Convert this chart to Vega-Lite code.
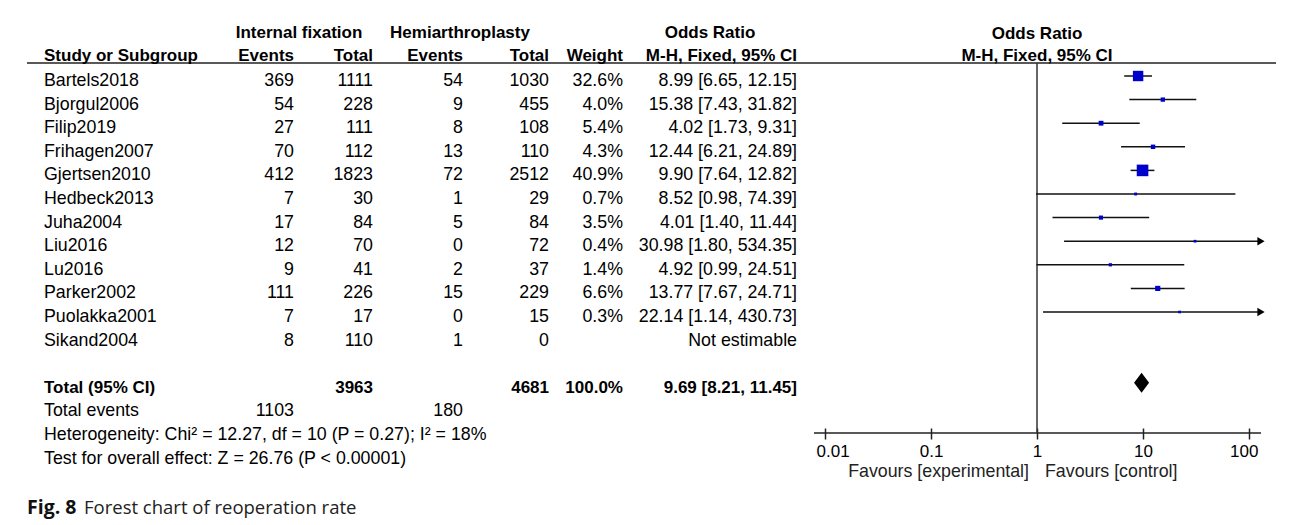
{
  "$schema": "https://vega.github.io/schema/vega-lite/v6.json",
  "background": "white",
  "padding": {"left": 26, "top": 20, "right": 0, "bottom": 6},
  "bounds": "flush",
  "spacing": 0,
  "config": {
    "view": {"stroke": null},
    "text": {"font": "Liberation Sans", "fontSize": 17.8, "color": "#000", "baseline": "middle", "dy": 5}
  },
  "resolve": {"scale": {"x": "independent", "y": "independent", "size": "independent"}},
  "datasets": {
    "one": [{}],
    "table": [
      {"row": 1, "kind": "study", "label": "Bartels2018", "e1": 369, "n1": 1111, "e2": 54, "n2": 1030, "weight": "32.6%", "w": 32.6, "ci": "8.99 [6.65, 12.15]", "or": 8.99, "lo": 6.65, "hi": 12.15},
      {"row": 2, "kind": "study", "label": "Bjorgul2006", "e1": 54, "n1": 228, "e2": 9, "n2": 455, "weight": "4.0%", "w": 4.0, "ci": "15.38 [7.43, 31.82]", "or": 15.38, "lo": 7.43, "hi": 31.82},
      {"row": 3, "kind": "study", "label": "Filip2019", "e1": 27, "n1": 111, "e2": 8, "n2": 108, "weight": "5.4%", "w": 5.4, "ci": "4.02 [1.73, 9.31]", "or": 4.02, "lo": 1.73, "hi": 9.31},
      {"row": 4, "kind": "study", "label": "Frihagen2007", "e1": 70, "n1": 112, "e2": 13, "n2": 110, "weight": "4.3%", "w": 4.3, "ci": "12.44 [6.21, 24.89]", "or": 12.44, "lo": 6.21, "hi": 24.89},
      {"row": 5, "kind": "study", "label": "Gjertsen2010", "e1": 412, "n1": 1823, "e2": 72, "n2": 2512, "weight": "40.9%", "w": 40.9, "ci": "9.90 [7.64, 12.82]", "or": 9.90, "lo": 7.64, "hi": 12.82},
      {"row": 6, "kind": "study", "label": "Hedbeck2013", "e1": 7, "n1": 30, "e2": 1, "n2": 29, "weight": "0.7%", "w": 0.7, "ci": "8.52 [0.98, 74.39]", "or": 8.52, "lo": 0.98, "hi": 74.39},
      {"row": 7, "kind": "study", "label": "Juha2004", "e1": 17, "n1": 84, "e2": 5, "n2": 84, "weight": "3.5%", "w": 3.5, "ci": "4.01 [1.40, 11.44]", "or": 4.01, "lo": 1.40, "hi": 11.44},
      {"row": 8, "kind": "study", "label": "Liu2016", "e1": 12, "n1": 70, "e2": 0, "n2": 72, "weight": "0.4%", "w": 0.4, "ci": "30.98 [1.80, 534.35]", "or": 30.98, "lo": 1.80, "hi": 534.35},
      {"row": 9, "kind": "study", "label": "Lu2016", "e1": 9, "n1": 41, "e2": 2, "n2": 37, "weight": "1.4%", "w": 1.4, "ci": "4.92 [0.99, 24.51]", "or": 4.92, "lo": 0.99, "hi": 24.51},
      {"row": 10, "kind": "study", "label": "Parker2002", "e1": 111, "n1": 226, "e2": 15, "n2": 229, "weight": "6.6%", "w": 6.6, "ci": "13.77 [7.67, 24.71]", "or": 13.77, "lo": 7.67, "hi": 24.71},
      {"row": 11, "kind": "study", "label": "Puolakka2001", "e1": 7, "n1": 17, "e2": 0, "n2": 15, "weight": "0.3%", "w": 0.3, "ci": "22.14 [1.14, 430.73]", "or": 22.14, "lo": 1.14, "hi": 430.73},
      {"row": 12, "kind": "study", "label": "Sikand2004", "e1": 8, "n1": 110, "e2": 1, "n2": 0, "weight": "", "ci": "Not estimable"},
      {"row": 14, "kind": "total", "label": "Total (95% CI)", "n1": 3963, "n2": 4681, "weight": "100.0%", "w": 100, "ci": "9.69 [8.21, 11.45]", "or": 9.69, "lo": 8.21, "hi": 11.45},
      {"row": 15, "kind": "events", "label": "Total events", "e1": 1103, "e2": 180},
      {"row": 16, "kind": "note", "label": "Heterogeneity: Chi² = 12.27, df = 10 (P = 0.27); I² = 18%"},
      {"row": 17, "kind": "note", "label": "Test for overall effect: Z = 26.76 (P < 0.00001)"}
    ]
  },
  "hconcat": [
    {
      "width": 17, "height": 413,
      "layer": [
        {"data": {"name": "one"}, "mark": {"type": "rule", "color": "#222", "strokeWidth": 1.5},
         "encoding": {"y": {"datum": 0.449, "type": "quantitative", "scale": {"type": "linear", "domain": [-1.373, 16.127], "reverse": true, "nice": false, "zero": false}, "axis": null}}},
        {"data": {"name": "one"}, "mark": {"type": "text", "text": "Fig. 8", "align": "left", "dy": 0, "font": "Open Sans", "fontWeight": "bold", "fontSize": 19.5, "color": "#111"},
         "encoding": {"x": {"datum": 0, "type": "quantitative", "scale": {"type": "linear", "domain": [0, 1], "nice": false, "zero": false}, "axis": null},
                      "y": {"datum": 19.305, "type": "quantitative", "axis": null}}},
        {"data": {"name": "one"}, "mark": {"type": "text", "text": "Forest chart of reoperation rate", "align": "left", "dx": 57, "dy": 0, "font": "Open Sans", "fontSize": 18.5, "color": "#222"},
         "encoding": {"x": {"datum": 0, "type": "quantitative", "axis": null},
                      "y": {"datum": 19.305, "type": "quantitative", "axis": null}}}
      ]
    },
    {
      "width": 181, "height": 413,
      "layer": [
        {"data": {"name": "one"}, "mark": {"type": "rule", "color": "#222", "strokeWidth": 1.5},
         "encoding": {"y": {"datum": 0.449, "type": "quantitative", "scale": {"type": "linear", "domain": [-1.373, 16.127], "reverse": true, "nice": false, "zero": false}, "axis": null}}},
        {"data": {"name": "one"}, "mark": {"type": "text", "text": "Study or Subgroup", "align": "left", "dy": 4, "fontWeight": "bold", "fontSize": 17},
         "encoding": {"x": {"datum": 0, "type": "quantitative", "scale": {"type": "linear", "domain": [0, 1], "nice": false, "zero": false}, "axis": null},
                      "y": {"datum": 0, "type": "quantitative", "axis": null}}},
        {"data": {"name": "table"}, "transform": [{"filter": "datum.kind !== 'total'"}],
         "mark": {"type": "text", "align": "left"},
         "encoding": {"x": {"datum": 0, "type": "quantitative", "axis": null},
                      "y": {"field": "row", "type": "quantitative", "axis": null},
                      "text": {"field": "label", "type": "nominal"}}},
        {"data": {"name": "table"}, "transform": [{"filter": "datum.kind === 'total'"}],
         "mark": {"type": "text", "align": "left", "fontWeight": "bold", "fontSize": 17},
         "encoding": {"x": {"datum": 0, "type": "quantitative", "axis": null},
                      "y": {"field": "row", "type": "quantitative", "axis": null},
                      "text": {"field": "label", "type": "nominal"}}}
      ]
    },
    {
      "width": 69, "height": 413,
      "layer": [
        {"data": {"name": "one"}, "mark": {"type": "rule", "color": "#222", "strokeWidth": 1.5},
         "encoding": {"y": {"datum": 0.449, "type": "quantitative", "scale": {"type": "linear", "domain": [-1.373, 16.127], "reverse": true, "nice": false, "zero": false}, "axis": null}}},
        {"data": {"name": "one"}, "mark": {"type": "text", "text": "Internal fixation", "align": "center", "dx": 5, "dy": 4, "fontWeight": "bold", "fontSize": 17},
         "encoding": {"x": {"datum": 1, "type": "quantitative", "scale": {"type": "linear", "domain": [0, 1], "nice": false, "zero": false}, "axis": null},
                      "y": {"datum": -1, "type": "quantitative", "axis": null}}},
        {"data": {"name": "one"}, "mark": {"type": "text", "text": "Events", "align": "right", "dy": 4, "fontWeight": "bold", "fontSize": 17},
         "encoding": {"x": {"datum": 1, "type": "quantitative", "axis": null},
                      "y": {"datum": 0, "type": "quantitative", "axis": null}}},
        {"data": {"name": "table"}, "transform": [{"filter": "datum.kind !== 'total' && isValid(datum.e1)"}],
         "mark": {"type": "text", "align": "right"},
         "encoding": {"x": {"datum": 1, "type": "quantitative", "axis": null},
                      "y": {"field": "row", "type": "quantitative", "axis": null},
                      "text": {"field": "e1", "type": "nominal"}}}
      ]
    },
    {
      "width": 79, "height": 413,
      "layer": [
        {"data": {"name": "one"}, "mark": {"type": "rule", "color": "#222", "strokeWidth": 1.5},
         "encoding": {"y": {"datum": 0.449, "type": "quantitative", "scale": {"type": "linear", "domain": [-1.373, 16.127], "reverse": true, "nice": false, "zero": false}, "axis": null}}},
        {"data": {"name": "one"}, "mark": {"type": "text", "text": "Total", "align": "right", "dy": 4, "fontWeight": "bold", "fontSize": 17},
         "encoding": {"x": {"datum": 1, "type": "quantitative", "scale": {"type": "linear", "domain": [0, 1], "nice": false, "zero": false}, "axis": null},
                      "y": {"datum": 0, "type": "quantitative", "axis": null}}},
        {"data": {"name": "table"}, "transform": [{"filter": "datum.kind !== 'total' && isValid(datum.n1)"}],
         "mark": {"type": "text", "align": "right"},
         "encoding": {"x": {"datum": 1, "type": "quantitative", "axis": null},
                      "y": {"field": "row", "type": "quantitative", "axis": null},
                      "text": {"field": "n1", "type": "nominal"}}},
        {"data": {"name": "table"}, "transform": [{"filter": "datum.kind === 'total'"}],
         "mark": {"type": "text", "align": "right", "fontWeight": "bold", "fontSize": 17},
         "encoding": {"x": {"datum": 1, "type": "quantitative", "axis": null},
                      "y": {"field": "row", "type": "quantitative", "axis": null},
                      "text": {"field": "n1", "type": "nominal"}}}
      ]
    },
    {
      "width": 90, "height": 413,
      "layer": [
        {"data": {"name": "one"}, "mark": {"type": "rule", "color": "#222", "strokeWidth": 1.5},
         "encoding": {"y": {"datum": 0.449, "type": "quantitative", "scale": {"type": "linear", "domain": [-1.373, 16.127], "reverse": true, "nice": false, "zero": false}, "axis": null}}},
        {"data": {"name": "one"}, "mark": {"type": "text", "text": "Hemiarthroplasty", "align": "center", "dx": -3, "dy": 4, "fontWeight": "bold", "fontSize": 17},
         "encoding": {"x": {"datum": 1, "type": "quantitative", "scale": {"type": "linear", "domain": [0, 1], "nice": false, "zero": false}, "axis": null},
                      "y": {"datum": -1, "type": "quantitative", "axis": null}}},
        {"data": {"name": "one"}, "mark": {"type": "text", "text": "Events", "align": "right", "dy": 4, "fontWeight": "bold", "fontSize": 17},
         "encoding": {"x": {"datum": 1, "type": "quantitative", "axis": null},
                      "y": {"datum": 0, "type": "quantitative", "axis": null}}},
        {"data": {"name": "table"}, "transform": [{"filter": "datum.kind !== 'total' && isValid(datum.e2)"}],
         "mark": {"type": "text", "align": "right"},
         "encoding": {"x": {"datum": 1, "type": "quantitative", "axis": null},
                      "y": {"field": "row", "type": "quantitative", "axis": null},
                      "text": {"field": "e2", "type": "nominal"}}}
      ]
    },
    {
      "width": 86, "height": 413,
      "layer": [
        {"data": {"name": "one"}, "mark": {"type": "rule", "color": "#222", "strokeWidth": 1.5},
         "encoding": {"y": {"datum": 0.449, "type": "quantitative", "scale": {"type": "linear", "domain": [-1.373, 16.127], "reverse": true, "nice": false, "zero": false}, "axis": null}}},
        {"data": {"name": "one"}, "mark": {"type": "text", "text": "Total", "align": "right", "dy": 4, "fontWeight": "bold", "fontSize": 17},
         "encoding": {"x": {"datum": 1, "type": "quantitative", "scale": {"type": "linear", "domain": [0, 1], "nice": false, "zero": false}, "axis": null},
                      "y": {"datum": 0, "type": "quantitative", "axis": null}}},
        {"data": {"name": "table"}, "transform": [{"filter": "datum.kind !== 'total' && isValid(datum.n2)"}],
         "mark": {"type": "text", "align": "right"},
         "encoding": {"x": {"datum": 1, "type": "quantitative", "axis": null},
                      "y": {"field": "row", "type": "quantitative", "axis": null},
                      "text": {"field": "n2", "type": "nominal"}}},
        {"data": {"name": "table"}, "transform": [{"filter": "datum.kind === 'total'"}],
         "mark": {"type": "text", "align": "right", "fontWeight": "bold", "fontSize": 17},
         "encoding": {"x": {"datum": 1, "type": "quantitative", "axis": null},
                      "y": {"field": "row", "type": "quantitative", "axis": null},
                      "text": {"field": "n2", "type": "nominal"}}}
      ]
    },
    {
      "width": 74, "height": 413,
      "layer": [
        {"data": {"name": "one"}, "mark": {"type": "rule", "color": "#222", "strokeWidth": 1.5},
         "encoding": {"y": {"datum": 0.449, "type": "quantitative", "scale": {"type": "linear", "domain": [-1.373, 16.127], "reverse": true, "nice": false, "zero": false}, "axis": null}}},
        {"data": {"name": "one"}, "mark": {"type": "text", "text": "Weight", "align": "right", "dy": 4, "fontWeight": "bold", "fontSize": 17},
         "encoding": {"x": {"datum": 1, "type": "quantitative", "scale": {"type": "linear", "domain": [0, 1], "nice": false, "zero": false}, "axis": null},
                      "y": {"datum": 0, "type": "quantitative", "axis": null}}},
        {"data": {"name": "table"}, "transform": [{"filter": "datum.kind !== 'total' && isValid(datum.weight) && datum.weight !== ''"}],
         "mark": {"type": "text", "align": "right"},
         "encoding": {"x": {"datum": 1, "type": "quantitative", "axis": null},
                      "y": {"field": "row", "type": "quantitative", "axis": null},
                      "text": {"field": "weight", "type": "nominal"}}},
        {"data": {"name": "table"}, "transform": [{"filter": "datum.kind === 'total'"}],
         "mark": {"type": "text", "align": "right", "fontWeight": "bold", "fontSize": 17},
         "encoding": {"x": {"datum": 1, "type": "quantitative", "axis": null},
                      "y": {"field": "row", "type": "quantitative", "axis": null},
                      "text": {"field": "weight", "type": "nominal"}}}
      ]
    },
    {
      "width": 174, "height": 413,
      "layer": [
        {"data": {"name": "one"}, "mark": {"type": "rule", "color": "#222", "strokeWidth": 1.5},
         "encoding": {"y": {"datum": 0.449, "type": "quantitative", "scale": {"type": "linear", "domain": [-1.373, 16.127], "reverse": true, "nice": false, "zero": false}, "axis": null}}},
        {"data": {"name": "one"}, "mark": {"type": "text", "text": "Odds Ratio", "align": "center", "dy": 4, "fontWeight": "bold", "fontSize": 17},
         "encoding": {"x": {"datum": 0.5, "type": "quantitative", "scale": {"type": "linear", "domain": [0, 1], "nice": false, "zero": false}, "axis": null},
                      "y": {"datum": -1, "type": "quantitative", "axis": null}}},
        {"data": {"name": "one"}, "mark": {"type": "text", "text": "M-H, Fixed, 95% CI", "align": "right", "dy": 4, "fontWeight": "bold", "fontSize": 17},
         "encoding": {"x": {"datum": 1, "type": "quantitative", "axis": null},
                      "y": {"datum": 0, "type": "quantitative", "axis": null}}},
        {"data": {"name": "table"}, "transform": [{"filter": "datum.kind === 'study'"}],
         "mark": {"type": "text", "align": "right"},
         "encoding": {"x": {"datum": 1, "type": "quantitative", "axis": null},
                      "y": {"field": "row", "type": "quantitative", "axis": null},
                      "text": {"field": "ci", "type": "nominal"}}},
        {"data": {"name": "table"}, "transform": [{"filter": "datum.kind === 'total'"}],
         "mark": {"type": "text", "align": "right", "fontWeight": "bold", "fontSize": 17},
         "encoding": {"x": {"datum": 1, "type": "quantitative", "axis": null},
                      "y": {"field": "row", "type": "quantitative", "axis": null},
                      "text": {"field": "ci", "type": "nominal"}}}
      ]
    },
    {
      "width": 17, "height": 413,
      "layer": [
        {"data": {"name": "one"}, "mark": {"type": "rule", "color": "#222", "strokeWidth": 1.5},
         "encoding": {"y": {"datum": 0.449, "type": "quantitative", "scale": {"type": "linear", "domain": [-1.373, 16.127], "reverse": true, "nice": false, "zero": false}, "axis": null}}}
      ]
    },
    {
      "width": 447, "height": 413,
      "layer": [
        {"data": {"name": "one"}, "mark": {"type": "rule", "color": "#222", "strokeWidth": 1.5},
         "encoding": {"y": {"datum": 0.449, "type": "quantitative", "scale": {"type": "linear", "domain": [-1.373, 16.127], "reverse": true, "nice": false, "zero": false}, "axis": null}}},
        {"data": {"name": "one"}, "mark": {"type": "rule", "color": "#222", "strokeWidth": 1.5},
         "encoding": {"y": {"datum": 16.127, "type": "quantitative", "axis": null}}},
        {"data": {"name": "one"}, "mark": {"type": "rule", "color": "#333", "strokeWidth": 1.5},
         "encoding": {"x": {"datum": 1, "type": "quantitative",
                            "scale": {"type": "log", "domain": [0.007871, 129.8], "nice": false, "clamp": true},
                            "axis": {"values": [0.01, 0.1, 1, 10, 100], "format": "~g", "title": null, "grid": false, "domain": false, "ticks": true, "tickSize": 11, "tickWidth": 1.5, "tickColor": "#222", "offset": -5, "labelPadding": 4, "labelFont": "Liberation Sans", "labelFontSize": 17, "labelColor": "#000", "labelAngle": 0, "labelFlush": 13, "labelFlushOffset": 9, "labelOverlap": false}},
                      "y": {"datum": 0.449, "type": "quantitative", "axis": null},
                      "y2": {"datum": 16.127}}},
        {"data": {"name": "one"}, "mark": {"type": "text", "text": "Odds Ratio", "align": "center", "dy": 5, "fontWeight": "bold", "fontSize": 17},
         "encoding": {"x": {"datum": 1, "type": "quantitative"},
                      "y": {"datum": -1, "type": "quantitative", "axis": null}}},
        {"data": {"name": "one"}, "mark": {"type": "text", "text": "M-H, Fixed, 95% CI", "align": "center", "dy": 4, "fontWeight": "bold", "fontSize": 17},
         "encoding": {"x": {"datum": 1, "type": "quantitative"},
                      "y": {"datum": 0, "type": "quantitative", "axis": null}}},
        {"data": {"name": "table"}, "transform": [{"filter": "datum.kind === 'study' && isValid(datum.lo)"}],
         "mark": {"type": "rule", "color": "#111", "strokeWidth": 1.5},
         "encoding": {"x": {"field": "lo", "type": "quantitative"},
                      "x2": {"field": "hi"},
                      "y": {"field": "row", "type": "quantitative", "axis": null}}},
        {"data": {"name": "table"}, "transform": [{"filter": "datum.kind === 'study' && isValid(datum.or)"}],
         "mark": {"type": "square", "filled": true, "color": "#0000CC", "opacity": 1},
         "encoding": {"x": {"field": "or", "type": "quantitative"},
                      "y": {"field": "row", "type": "quantitative", "axis": null},
                      "size": {"field": "w", "type": "quantitative", "scale": {"type": "linear", "domain": [0, 100], "range": [6, 320]}, "legend": null}}},
        {"data": {"name": "table"}, "transform": [{"filter": "datum.kind === 'study' && datum.hi > 100"}],
         "mark": {"type": "point", "shape": "triangle-right", "filled": true, "color": "#000", "opacity": 1, "size": 70},
         "encoding": {"x": {"field": "hi", "type": "quantitative"},
                      "y": {"field": "row", "type": "quantitative", "axis": null}}},
        {"data": {"name": "table"}, "transform": [{"filter": "datum.kind === 'total'"}],
         "mark": {"type": "point", "shape": "M-0.75,0L0,-1L0.75,0L0,1Z", "filled": true, "color": "#000", "opacity": 1, "size": 400},
         "encoding": {"x": {"field": "or", "type": "quantitative"},
                      "y": {"field": "row", "type": "quantitative", "axis": null}}},
        {"data": {"name": "one"}, "mark": {"type": "text", "text": "Favours [experimental]", "align": "right", "dx": -8, "dy": 0, "color": "#222"},
         "encoding": {"x": {"datum": 1, "type": "quantitative"},
                      "y": {"datum": 17.78, "type": "quantitative", "axis": null}}},
        {"data": {"name": "one"}, "mark": {"type": "text", "text": "Favours [control]", "align": "left", "dx": 8, "dy": 0, "color": "#222"},
         "encoding": {"x": {"datum": 1, "type": "quantitative"},
                      "y": {"datum": 17.78, "type": "quantitative", "axis": null}}}
      ]
    },
    {
      "width": 15, "height": 413,
      "layer": [
        {"data": {"name": "one"}, "mark": {"type": "rule", "color": "#222", "strokeWidth": 1.5},
         "encoding": {"y": {"datum": 0.449, "type": "quantitative", "scale": {"type": "linear", "domain": [-1.373, 16.127], "reverse": true, "nice": false, "zero": false}, "axis": null}}}
      ]
    }
  ]
}
